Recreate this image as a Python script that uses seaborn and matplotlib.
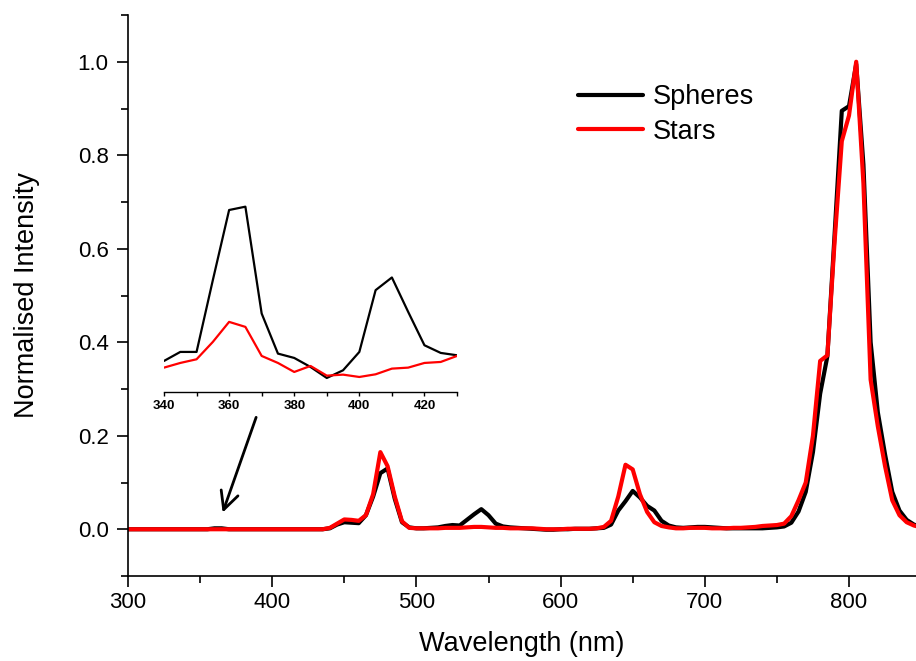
import numpy as np
import pandas as pd
import matplotlib
matplotlib.use("Agg")
import matplotlib.pyplot as plt
import seaborn as sns
from matplotlib.ticker import MultipleLocator

# ---------------- data ----------------
wavelength = list(range(300, 855, 5))

spheres = [0.0] * 12 + [0.002, 0.002] + [0.0] * 14 + [
    0.002, 0.010, 0.015, 0.014, 0.013, 0.030, 0.070, 0.120, 0.130, 0.065,
    0.015, 0.004, 0.002, 0.002, 0.003, 0.004, 0.007, 0.009, 0.008, 0.020,
    0.032, 0.043, 0.030, 0.012, 0.006, 0.004, 0.003, 0.002, 0.001, 0.000,
    -0.001, -0.001, 0.000, 0.000, 0.001, 0.001, 0.001, 0.002, 0.003, 0.010,
    0.040, 0.060, 0.082, 0.068, 0.050, 0.040, 0.018, 0.008, 0.004, 0.003,
    0.004, 0.005, 0.005, 0.004, 0.003, 0.002, 0.002, 0.002, 0.002, 0.002,
    0.002, 0.003, 0.004, 0.006, 0.014, 0.038, 0.080, 0.165, 0.290, 0.370,
    0.630, 0.895, 0.905, 0.995, 0.780, 0.400, 0.250, 0.160, 0.080, 0.040,
    0.020, 0.010, 0.005]

stars = [0.0] * 28 + [
    0.003, 0.012, 0.021, 0.020, 0.018, 0.030, 0.075, 0.165, 0.135, 0.070,
    0.017, 0.003, 0.002, 0.002, 0.002, 0.002, 0.003, 0.003, 0.003, 0.004,
    0.005, 0.005, 0.004, 0.003, 0.003, 0.002, 0.002, 0.002, 0.002, 0.001,
    0.000, 0.000, 0.000, 0.001, 0.001, 0.001, 0.001, 0.002, 0.005, 0.018,
    0.070, 0.138, 0.128, 0.075, 0.037, 0.015, 0.007, 0.004, 0.002, 0.002,
    0.003, 0.003, 0.003, 0.002, 0.002, 0.002, 0.003, 0.003, 0.004, 0.005,
    0.007, 0.008, 0.009, 0.012, 0.028, 0.062, 0.100, 0.200, 0.360, 0.372,
    0.615, 0.830, 0.885, 1.000, 0.740, 0.320, 0.220, 0.135, 0.062, 0.030,
    0.015, 0.008, 0.004]

# inset (340-430 nm, magnified, arbitrary units)
inset_wavelength = list(range(340, 435, 5))
inset_spheres = [18.6, 24.0, 24.0, 67.0, 109.0, 111.0, 47.0, 23.0, 20.4, 15.0,
                 8.4, 13.0, 24.0, 61.0, 68.6, 48.0, 28.0, 23.4, 22.0]
inset_stars = [14.6, 17.4, 19.6, 30.0, 42.0, 39.0, 21.6, 17.4, 12.0, 15.6,
               9.8, 10.4, 9.0, 10.6, 14.0, 14.6, 17.4, 18.0, 21.6]

series_names = ["Spheres", "Stars"]
series_colors = ["#000000", "#ff0000"]

x_ticks = [300, 400, 500, 600, 700, 800]
y_ticks = [0.0, 0.2, 0.4, 0.6, 0.8, 1.0]
inset_ticks = [340, 360, 380, 400, 420]

# ---------------- plotting ----------------
sns.set_theme(style="white")
plt.rcParams["font.family"] = ["Liberation Sans", "DejaVu Sans"]
plt.rcParams["text.color"] = "black"
plt.rcParams["axes.labelcolor"] = "black"
plt.rcParams["xtick.color"] = "black"
plt.rcParams["ytick.color"] = "black"

W, H = 916, 661
fig = plt.figure(figsize=(W / 100, H / 100), dpi=100)

ax_l, ax_r, ax_b, ax_t = 128, 916, 576, 15
ax = fig.add_axes([ax_l / W, 1 - ax_b / H, (ax_r - ax_l) / W, (ax_b - ax_t) / H])

df = pd.DataFrame({
    "Wavelength": wavelength * 2,
    "Intensity": spheres + stars,
    "Sample": [series_names[0]] * len(wavelength) + [series_names[1]] * len(wavelength),
})
sns.lineplot(data=df, x="Wavelength", y="Intensity", hue="Sample",
             palette=dict(zip(series_names, series_colors)), linewidth=3.0,
             ax=ax, legend=True)

ax.set_xlim(300, 300 + (ax_r - ax_l) / 1.442)
ax.set_ylim(-0.1, 1.1)
ax.set_xticks(x_ticks)
ax.set_yticks(y_ticks)
ax.xaxis.set_minor_locator(MultipleLocator(50))
ax.yaxis.set_minor_locator(MultipleLocator(0.1))
ax.tick_params(axis="both", which="major", direction="out", length=8, width=1.2,
               labelsize=16, colors="black", bottom=True, left=True)
ax.tick_params(axis="y", which="major", pad=6)
ax.tick_params(axis="both", which="minor", direction="out", length=5, width=1.2,
               bottom=True, left=True)
ax.set_yticklabels([f"{v:.1f}" for v in y_ticks])
for s in ["top", "right"]:
    ax.spines[s].set_visible(False)
for s in ["left", "bottom"]:
    ax.spines[s].set_color("black")
    ax.spines[s].set_linewidth(1.2)

ax.set_xlabel("Wavelength (nm)", fontsize=19.5, labelpad=13, color="black")
ax.set_ylabel("Normalised Intensity", fontsize=19.5, labelpad=27, color="black")

leg = ax.legend(loc="upper left", bbox_to_anchor=((578 - ax_l) / (ax_r - ax_l), (ax_b - 84) / (ax_b - ax_t)),
                frameon=False, fontsize=19.5, handlelength=2.4, handletextpad=0.35,
                labelspacing=0.32, borderpad=0, borderaxespad=0)
for line in leg.get_lines():
    line.set_linewidth(3.0)
for t in leg.get_texts():
    t.set_color("black")

# arrow pointing to 360 nm region
ax.annotate("", xy=(365, 0.03), xytext=(389.5, 0.245),
            arrowprops=dict(arrowstyle="->", color="black", lw=2, mutation_scale=32))

# inset
in_l, in_r, in_b, in_t = 164, 457, 392, 200
axi = fig.add_axes([in_l / W, 1 - in_b / H, (in_r - in_l) / W, (in_b - in_t) / H])
axi.patch.set_alpha(0)
dfi = pd.DataFrame({
    "Wavelength": inset_wavelength * 2,
    "Intensity": inset_spheres + inset_stars,
    "Sample": [series_names[0]] * len(inset_wavelength) + [series_names[1]] * len(inset_wavelength),
})
sns.lineplot(data=dfi, x="Wavelength", y="Intensity", hue="Sample",
             palette=dict(zip(series_names, series_colors)), linewidth=1.6,
             ax=axi, legend=False)
axi.set_xlim(340, 430)
axi.set_ylim(0, 115)
axi.set_xticks(inset_ticks)
axi.xaxis.set_minor_locator(MultipleLocator(10))
axi.set_yticks([])
axi.set_xlabel("")
axi.set_ylabel("")
for s in ["top", "right", "left"]:
    axi.spines[s].set_visible(False)
axi.spines["bottom"].set_color("black")
axi.spines["bottom"].set_linewidth(1.0)
axi.tick_params(axis="x", which="both", direction="out", length=3, width=1,
                labelsize=9.5, colors="black", bottom=True, pad=3)
for lab in axi.get_xticklabels():
    lab.set_fontweight("bold")

fig.savefig("out.png", dpi=100)
